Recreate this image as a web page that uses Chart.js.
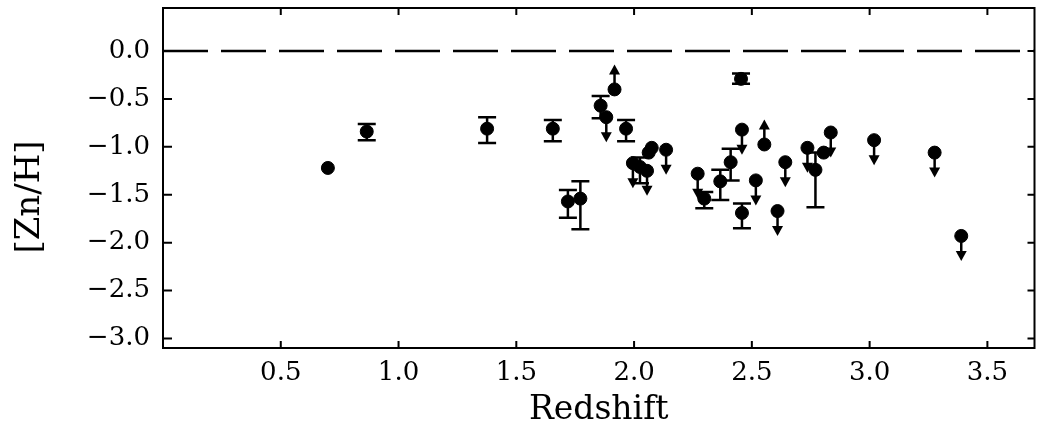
<!DOCTYPE html>
<html>
<head>
<meta charset="utf-8">
<script src="https://cdn.jsdelivr.net/npm/chart.js@4/dist/chart.umd.min.js"></script>
<style>
  body { margin: 0; background: #fff; }
  #wrap { width: 1042px; height: 427px; }
</style>
</head>
<body>
<div id="wrap"><canvas id="znChart" width="1042" height="427"></canvas></div>
<script>
// redshift of each absorber
var redshift = [0.70, 0.865, 1.376, 1.655, 1.719, 1.772, 1.858, 1.882, 1.917, 1.966,
                1.995, 2.025, 2.055, 2.062, 2.075, 2.136, 2.270, 2.298, 2.366, 2.410,
                2.454, 2.458, 2.458, 2.517, 2.553, 2.609, 2.642, 2.736, 2.770, 2.805,
                2.835, 3.019, 3.276, 3.389];
// [Zn/H] values
var znh = [-1.22, -0.84, -0.81, -0.81, -1.57, -1.54, -0.57, -0.69, -0.40, -0.81,
           -1.17, -1.21, -1.25, -1.06, -1.01, -1.03, -1.28, -1.54, -1.36, -1.16,
           -0.29, -0.82, -1.69, -1.35, -0.975, -1.67, -1.16, -1.01, -1.24, -1.06,
           -0.85, -0.93, -1.06, -1.93];
// error bar ends (null = no error bar)
var errLow = [null, -0.93, -0.96, -0.94, -1.74, -1.86, -0.70, null, null, -0.94,
              null, -1.38, null, null, null, null, null, -1.64, -1.555, -1.35,
              -0.34, null, -1.85, null, null, null, null, null, -1.63, null,
              null, null, null, null];
var errHigh = [null, -0.76, -0.69, -0.72, -1.45, -1.36, -0.47, null, null, -0.72,
               null, -1.11, null, null, null, null, null, -1.47, -1.24, -1.02,
               -0.235, null, -1.59, null, null, null, null, null, -1.06, null,
               null, null, null, null];
// 'u' = upper limit (arrow down), 'l' = lower limit (arrow up)
var limit = ['', '', '', '', '', '', '', 'u', 'l', '',
             'u', '', 'u', '', '', 'u', 'u', '', '', '',
             '', 'u', '', 'u', 'l', 'u', 'u', 'u', '', '',
             'u', 'u', 'u', 'u'];
// solar reference line
var solarX = [0, 3.7];
var solarY = [0, 0];
var xTicks = [0.5, 1.0, 1.5, 2.0, 2.5, 3.0, 3.5];
var xTickLabels = ['0.5', '1.0', '1.5', '2.0', '2.5', '3.0', '3.5'];
var yTicks = [0.0, -0.5, -1.0, -1.5, -2.0, -2.5, -3.0];
var yTickLabels = ['0.0', '\u22120.5', '\u22121.0', '\u22121.5', '\u22122.0', '\u22122.5', '\u22123.0'];

var FONT = "'DejaVu Serif', 'Liberation Serif', serif";

// error bars, limit arrows, frame with inward ticks and the y title
var marksPlugin = {
    id: 'marks',
    beforeDatasetsDraw: function(chart) {
        var ctx = chart.ctx;
        var xs = chart.scales.x, ys = chart.scales.y;
        ctx.save();
        ctx.strokeStyle = '#000';
        ctx.fillStyle = '#000';
        ctx.lineWidth = 2.5;
        for (var i = 0; i < redshift.length; i++) {
            var px = xs.getPixelForValue(redshift[i]);
            var py = ys.getPixelForValue(znh[i]);
            if (errLow[i] !== null) {
                var lo = ys.getPixelForValue(errLow[i]);
                var hi = ys.getPixelForValue(errHigh[i]);
                ctx.beginPath();
                ctx.moveTo(px, lo); ctx.lineTo(px, hi);
                ctx.moveTo(px - 9, lo); ctx.lineTo(px + 9, lo);
                ctx.moveTo(px - 9, hi); ctx.lineTo(px + 9, hi);
                ctx.stroke();
            }
            if (limit[i]) {
                var dir = limit[i] === 'u' ? 1 : -1;
                var tip = py + dir * 25;
                ctx.beginPath();
                ctx.moveTo(px, py); ctx.lineTo(px, tip - dir * 8);
                ctx.stroke();
                ctx.beginPath();
                ctx.moveTo(px, tip);
                ctx.lineTo(px - 5.5, tip - dir * 10);
                ctx.lineTo(px + 5.5, tip - dir * 10);
                ctx.closePath();
                ctx.fill();
            }
        }
        ctx.restore();
    },
    afterDraw: function(chart) {
        var ctx = chart.ctx;
        var a = chart.chartArea;
        var xs = chart.scales.x, ys = chart.scales.y;
        ctx.save();
        ctx.strokeStyle = '#000';
        ctx.lineWidth = 2;
        ctx.strokeRect(a.left, a.top, a.right - a.left, a.bottom - a.top);
        ctx.beginPath();
        xTicks.forEach(function(v) {
            var px = xs.getPixelForValue(v);
            ctx.moveTo(px, a.bottom); ctx.lineTo(px, a.bottom - 7);
            ctx.moveTo(px, a.top); ctx.lineTo(px, a.top + 7);
        });
        yTicks.forEach(function(v) {
            var py = ys.getPixelForValue(v);
            ctx.moveTo(a.left, py); ctx.lineTo(a.left + 9, py);
            ctx.moveTo(a.right, py); ctx.lineTo(a.right - 7, py);
        });
        ctx.stroke();
        // y axis title, placed a bit below the middle like the original
        ctx.translate(30, 197);
        ctx.rotate(-Math.PI / 2);
        ctx.fillStyle = '#000';
        ctx.font = '34px ' + FONT;
        ctx.textAlign = 'center';
        ctx.textBaseline = 'middle';
        ctx.fillText('[Zn/H]', 0, 0);
        ctx.restore();
    }
};

var ctx = document.getElementById('znChart').getContext('2d');
var znChart = new Chart(ctx, {
    type: 'scatter',
    data: {
        datasets: [{
            type: 'line',
            data: solarX.map(function(x, i) { return {x: x, y: solarY[i]}; }),
            borderColor: '#000',
            borderWidth: 2.5,
            borderDash: [45, 13],
            pointRadius: 0,
            fill: false
        }, {
            data: redshift.map(function(x, i) { return {x: x, y: znh[i]}; }),
            backgroundColor: '#000',
            borderColor: '#000',
            pointRadius: 6.5,
            pointHoverRadius: 6.5
        }]
    },
    options: {
        responsive: false,
        animation: false,
        layout: { padding: { left: 0, right: 5, top: 8, bottom: 0 } },
        plugins: {
            legend: { display: false },
            tooltip: { enabled: false }
        },
        scales: {
            x: {
                type: 'linear',
                min: 0,
                max: 3.7,
                afterFit: function(s) {
                    s.height = 79;
                    s.paddingLeft = 0; s.paddingRight = 0;
                },
                afterBuildTicks: function(s) {
                    s.ticks = xTicks.map(function(v) { return {value: v}; });
                },
                grid: { display: false, drawTicks: false },
                border: { display: false },
                ticks: {
                    padding: 10,
                    color: '#000',
                    font: { family: FONT, size: 26 },
                    maxRotation: 0,
                    callback: function(v) { return xTickLabels[xTicks.indexOf(v)]; }
                },
                title: {
                    display: true,
                    text: 'Redshift',
                    color: '#000',
                    font: { family: FONT, size: 33, lineHeight: 1 },
                    padding: { top: 0, bottom: 0 }
                }
            },
            y: {
                type: 'linear',
                min: -3.1,
                max: 0.45,
                afterFit: function(s) {
                    s.width = 163;
                    s.paddingTop = 0; s.paddingBottom = 0;
                },
                afterBuildTicks: function(s) {
                    s.ticks = yTicks.map(function(v) { return {value: v}; });
                },
                grid: { display: false, drawTicks: false },
                border: { display: false },
                ticks: {
                    padding: 13,
                    color: '#000',
                    font: { family: FONT, size: 26 },
                    callback: function(v) { return yTickLabels[yTicks.indexOf(v)]; }
                }
            }
        }
    },
    plugins: [marksPlugin]
});
</script>
</body>
</html>
